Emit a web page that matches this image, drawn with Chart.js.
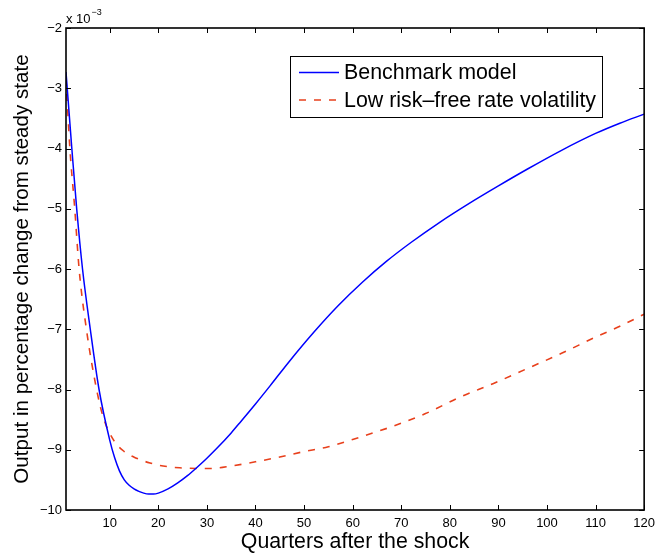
<!DOCTYPE html>
<html>
<head>
<meta charset="utf-8">
<script src="https://cdn.jsdelivr.net/npm/chart.js@4.4.1/dist/chart.umd.min.js"></script>
<style>
  html, body { margin: 0; padding: 0; background: #fff; }
  #wrap { width: 661px; height: 559px; position: relative; }
</style>
</head>
<body>
<div id="wrap"><canvas id="chart"></canvas></div>
<script>
// output response, units of 1e-3
const benchQ = [1, 2.2, 3.2, 4.4, 6, 7.8, 10, 11, 12, 13, 14, 15, 16, 17, 18, 19, 20, 22, 24, 26, 28, 30, 32, 35, 37, 40, 43, 47, 52, 57, 62, 67, 72, 78, 84, 90, 96, 103, 110, 115, 120];
const benchVal = [-2.73, -4.0, -5.0, -6.0, -7.0, -8.0, -8.84, -9.13, -9.35, -9.5, -9.59, -9.65, -9.69, -9.72, -9.735, -9.735, -9.72, -9.65, -9.55, -9.43, -9.29, -9.14, -8.98, -8.72, -8.53, -8.24, -7.94, -7.53, -7.05, -6.61, -6.22, -5.87, -5.56, -5.22, -4.91, -4.62, -4.34, -4.03, -3.75, -3.58, -3.43];

const lowQ = [1, 1.8, 2.8, 3.7, 5.2, 7.3, 8.7, 10.8, 13, 15.5, 18.3, 21, 24.4, 28, 31, 35, 40, 45, 50, 55, 60, 65, 69, 75, 82, 89, 96, 103, 110, 115, 120];
const lowVal = [-2.85, -4.0, -5.0, -6.0, -7.0, -8.0, -8.47, -8.84, -9.03, -9.14, -9.22, -9.27, -9.3, -9.31, -9.31, -9.27, -9.2, -9.12, -9.03, -8.95, -8.83, -8.7, -8.59, -8.4, -8.13, -7.9, -7.65, -7.4, -7.13, -6.95, -6.75];

const xTicks = [10, 20, 30, 40, 50, 60, 70, 80, 90, 100, 110, 120];
const yTicks = [-10, -9, -8, -7, -6, -5, -4, -3, -2];
const seriesNames = ['Benchmark model', 'Low risk\u2013free rate volatility'];

const FONT = '"Liberation Sans", Arial, Helvetica, sans-serif';
const toPts = (xs, ys) => xs.map((q, i) => ({x: q, y: ys[i]}));
const minus = v => String(v).replace('-', '\u2212');

// box + inner ticks on all four sides, the x10^-3 multiplier, and the legend
const framePlugin = {
    id: 'frame',
    afterDraw(chart){
        const {ctx, chartArea: a, scales: {x, y}} = chart;
        ctx.save();
        ctx.strokeStyle = '#000';
        ctx.lineWidth = 1;
        ctx.beginPath();
        x.ticks.forEach(t => {
            const px = Math.round(x.getPixelForValue(t.value)) + 0.5;
            ctx.moveTo(px, a.bottom); ctx.lineTo(px, a.bottom - 5);
            ctx.moveTo(px, a.top); ctx.lineTo(px, a.top + 5);
        });
        y.ticks.forEach(t => {
            const py = Math.round(y.getPixelForValue(t.value)) + 0.5;
            ctx.moveTo(a.left, py); ctx.lineTo(a.left + 5, py);
            ctx.moveTo(a.right, py); ctx.lineTo(a.right - 5, py);
        });
        ctx.stroke();
        ctx.lineWidth = 1.6;
        ctx.strokeRect(a.left, a.top, a.right - a.left, a.bottom - a.top);

        // exponent label
        ctx.fillStyle = '#000';
        ctx.textBaseline = 'alphabetic';
        ctx.textAlign = 'left';
        ctx.font = '13px ' + FONT;
        ctx.fillText('x 10', a.left, a.top - 5);
        const w = ctx.measureText('x 10').width;
        ctx.font = '9px ' + FONT;
        ctx.fillText('\u22123', a.left + w + 1, a.top - 13);

        // legend
        const bx = 290, by = 56, bw = 312, bh = 61;
        ctx.fillStyle = '#fff';
        ctx.fillRect(bx, by, bw, bh);
        ctx.lineWidth = 1;
        ctx.strokeStyle = '#000';
        ctx.strokeRect(bx + 0.5, by + 0.5, bw, bh);
        ctx.font = '21.4px ' + FONT;
        ctx.textBaseline = 'middle';
        chart.data.datasets.forEach((ds, i) => {
            const cy = 72.5 + i * 27.5;
            ctx.strokeStyle = ds.borderColor;
            ctx.lineWidth = ds.borderWidth;
            ctx.setLineDash(ds.borderDash || []);
            ctx.beginPath();
            ctx.moveTo(299, cy); ctx.lineTo(339, cy);
            ctx.stroke();
            ctx.setLineDash([]);
            ctx.fillStyle = '#000';
            ctx.fillText(ds.label, 344, cy + 1);
        });
        ctx.restore();
    }
};

new Chart(document.getElementById('chart'), {
    type: 'line',
    data: {
        datasets: [
            {label: seriesNames[0], data: toPts(benchQ, benchVal), borderColor: '#0000ff', borderWidth: 1.5,
             pointRadius: 0, cubicInterpolationMode: 'monotone', fill: false},
            {label: seriesNames[1], data: toPts(lowQ, lowVal), borderColor: '#e8401c', borderWidth: 1.6,
             borderDash: [7, 8], pointRadius: 0, cubicInterpolationMode: 'monotone', fill: false}
        ]
    },
    options: {
        responsive: true,
        maintainAspectRatio: false,
        animation: false,
        layout: {padding: {left: 0, top: 28, right: 14, bottom: 0}},
        plugins: {legend: {display: false}, tooltip: {enabled: false}},
        scales: {
            x: {
                type: 'linear', min: 1, max: 120,
                afterBuildTicks: s => { s.ticks = xTicks.map(v => ({value: v})); },
                afterFit: s => { s.height = 49; },
                grid: {display: false, drawTicks: false},
                border: {display: false},
                ticks: {padding: 6, color: '#000', font: {family: FONT, size: 13}, maxRotation: 0,
                        callback: v => minus(v)},
                title: {display: true, text: 'Quarters after the shock', color: '#000',
                        font: {family: FONT, size: 21.3}, padding: {top: 0, bottom: 4}}
            },
            y: {
                type: 'linear', min: -10, max: -2,
                afterBuildTicks: s => { s.ticks = yTicks.map(v => ({value: v})); },
                afterFit: s => { s.width = 66; },
                grid: {display: false, drawTicks: false},
                border: {display: false},
                ticks: {padding: 4, color: '#000', font: {family: FONT, size: 13},
                        callback: v => minus(v)},
                title: {display: true, text: 'Output in percentage change from steady state', color: '#000',
                        font: {family: FONT, size: 20.6}, padding: {top: 10, bottom: 0}}
            }
        }
    },
    plugins: [framePlugin]
});
</script>
</body>
</html>
